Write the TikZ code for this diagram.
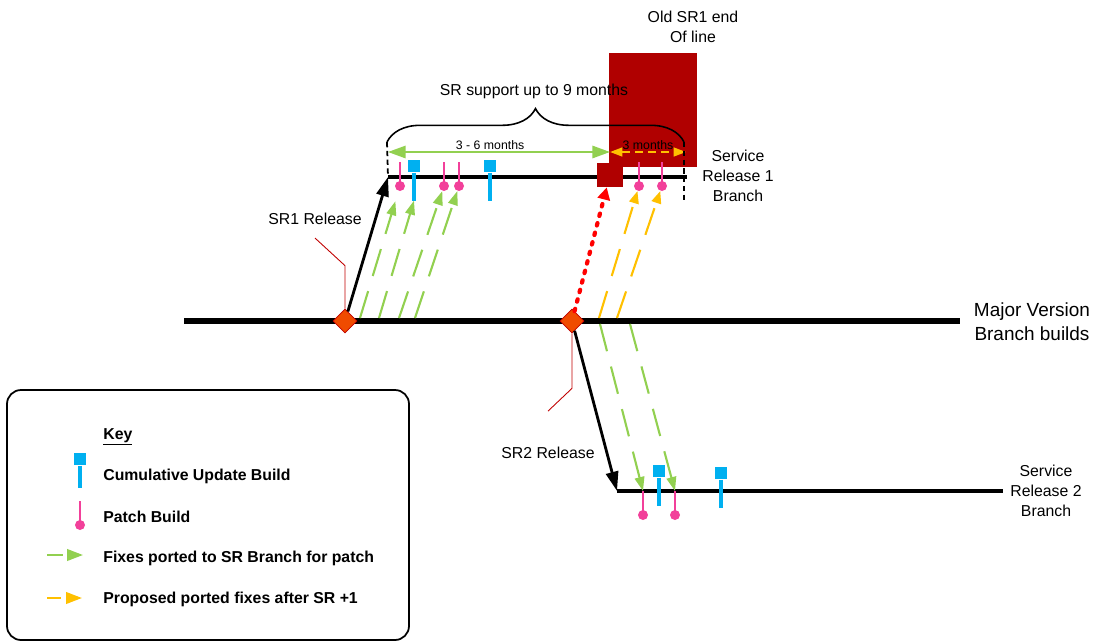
\documentclass[tikz,border=0pt]{standalone}
\usepackage{fontspec}
\setmainfont{Liberation Sans}
\usetikzlibrary{positioning,arrows.meta,shapes.geometric,decorations.pathreplacing,calc}

\definecolor{eolRed}{HTML}{B00000}
\definecolor{relOrange}{HTML}{F04B00}
\definecolor{relBorder}{HTML}{C00000}
\definecolor{fixGreen}{HTML}{92D050}
\definecolor{fixOrange}{HTML}{FFC000}
\definecolor{cuBlue}{HTML}{00B0F0}
\definecolor{patchPink}{HTML}{F2409A}

\begin{document}
\begin{tikzpicture}[
    x=0.2mm, y=-0.2mm,
    labelText/.style={align=center, font=\fontsize{9}{11.4}\selectfont},
    bigText/.style={align=center, font=\fontsize{10.8}{13.6}\selectfont},
    monthText/.style={font=\fontsize{7}{8.4}\selectfont, inner sep=0.8pt},
    keyText/.style={anchor=west, inner sep=0pt, font=\fontsize{9}{11}\selectfont\bfseries},
    keyBox/.style={rectangle, draw, line width=1pt, rounded corners=8pt, minimum width=80.4mm, minimum height=50mm},
    mainLine/.style={line width=3.4pt},
    branchLine/.style={line width=2pt},
    endMark/.style={line width=1pt, dash pattern=on 3pt off 2pt},
    braceLine/.style={decorate, decoration={brace, amplitude=19pt}, line width=0.9pt},
    eolBlock/.style={rectangle, fill=eolRed, inner sep=0pt},
    releaseMark/.style={diamond, aspect=1, draw=relBorder, fill=relOrange, inner sep=0pt, minimum width=4.8mm, minimum height=4.8mm},
    patchDot/.style={circle, fill=patchPink, inner sep=0pt, minimum size=2mm},
    patchStem/.style={draw=patchPink, line width=1.3pt},
    cuSquare/.style={rectangle, fill=cuBlue, inner sep=0pt, minimum width=2.3mm, minimum height=2.5mm},
    cuStem/.style={draw=cuBlue, line width=2pt},
    releaseArrow/.style={-{Triangle[length=11pt, width=7pt]}, line width=1.6pt},
    greenFix/.style={-{Triangle[length=8pt, width=5.5pt]}, draw=fixGreen, line width=1.2pt, dash pattern=on 16pt off 9pt},
    orangeFix/.style={-{Triangle[length=7pt, width=5.5pt]}, draw=fixOrange, line width=1.2pt, dash pattern=on 16pt off 9pt},
    redFix/.style={-{Triangle[length=7pt, width=7pt]}, draw=red, line width=2.4pt, line cap=round, dash pattern=on 1.4pt off 4.2pt},
    calloutLine/.style={draw=relBorder, line width=0.5pt},
    spanGreen/.style={{Triangle[length=10pt, width=7pt]}-{Triangle[length=10pt, width=7pt]}, draw=fixGreen, line width=1.1pt},
    spanOrange/.style={{Triangle[length=7pt, width=5pt]}-{Triangle[length=7pt, width=5pt]}, draw=fixOrange, line width=1.1pt, dash pattern=on 4.5pt off 3pt},
    keyGreen/.style={-{Triangle[length=9pt, width=6.5pt]}, draw=fixGreen, line width=1.3pt, dash pattern=on 9pt off 5pt},
    keyOrange/.style={-{Triangle[length=9pt, width=6.5pt]}, draw=fixOrange, line width=1.3pt, dash pattern=on 8pt off 5pt}
]
\useasboundingbox (0,0) rectangle (1097,643);

% ================= OLD SR1 END OF LINE =================
\node[eolBlock, minimum width=17.6mm, minimum height=22.8mm] (eolBig) at (653,110) {};
\node[labelText] (eolLbl) at (693,27) {Old SR1 end\\Of line};

% ================= SUPPORT SPAN =================
\coordinate (braceL) at (387,142);
\coordinate (braceR) at (684,142);
\draw[braceLine] (braceL) -- (braceR);
\node[labelText] (supportLbl) at (534,91) {SR support up to 9 months};

\coordinate (spanL) at (388,152);
\coordinate (spanMid) at (610,152);
\coordinate (spanR) at (686,152);
\draw[spanGreen] (spanL) -- node[monthText, above, pos=0.46] (spanGreenLbl) {3 - 6 months} (spanMid);
\draw[spanOrange] (spanMid) -- node[monthText, above] (spanOrangeLbl) {3 months} (spanR);

% ================= BRANCH LINES =================
\coordinate (mainL) at (184,321);
\coordinate (mainR) at (960,321);
\draw[mainLine] (mainL) -- (mainR);
\node[bigText] (mainLbl) at (1032,322) {Major Version\\Branch builds};

\coordinate (sr1Start) at (388,177);
\coordinate (sr1End) at (687,177);
\coordinate (sr1Tick) at (684,200);
\draw[branchLine] (sr1Start) -- (sr1End);
\draw[endMark] (braceL) -- (sr1Start);
\draw[endMark] (braceR) -- (sr1Tick);
\node[labelText] (sr1BranchLbl) at (738,176) {Service\\Release 1\\Branch};

\coordinate (sr2Start) at (617,491);
\coordinate (sr2End) at (1003,491);
\draw[branchLine] (sr2Start) -- (sr2End);
\node[labelText] (sr2BranchLbl) at (1046,491) {Service\\Release 2\\Branch};

\node[eolBlock, minimum width=5.2mm, minimum height=4.8mm] (eolSq) at (610,175) {};

% ================= BUILDS ON SR1 =================
\node[patchDot] (sr1P1) at (400,186) {};
\draw[patchStem] (sr1P1.center) -- ++(0,-24);
\node[cuSquare] (sr1C1) at (414,166) {};
\draw[cuStem] (sr1C1.south) -- ++(0,28) coordinate (sr1C1b);
\node[patchDot] (sr1P2) at (444,186) {};
\draw[patchStem] (sr1P2.center) -- ++(0,-24);
\node[patchDot] (sr1P3) at (459,186) {};
\draw[patchStem] (sr1P3.center) -- ++(0,-24);
\node[cuSquare] (sr1C2) at (490,166) {};
\draw[cuStem] (sr1C2.south) -- ++(0,28);
\node[patchDot] (sr1P4) at (639,186) {};
\draw[patchStem] (sr1P4.center) -- ++(0,-24);
\node[patchDot] (sr1P5) at (662,186) {};
\draw[patchStem] (sr1P5.center) -- ++(0,-24);

% ================= BUILDS ON SR2 =================
\node[patchDot] (sr2P1) at (643,515) {};
\draw[patchStem] (sr2P1.center) -- ++(0,-24) coordinate (sr2P1t);
\node[cuSquare] (sr2C1) at (659,471) {};
\draw[cuStem] (sr2C1.south) -- ++(0,28);
\node[patchDot] (sr2P2) at (675,515) {};
\draw[patchStem] (sr2P2.center) -- ++(0,-24) coordinate (sr2P2t);
\node[cuSquare] (sr2C2) at (721,473) {};
\draw[cuStem] (sr2C2.south) -- ++(0,28);

% ================= RELEASES =================
\node[releaseMark] (sr1Rel) at (345,321) {};
\node[releaseMark] (sr2Rel) at (572,321) {};
\draw[releaseArrow] (sr1Rel) -- (sr1Start);
\draw[releaseArrow] (sr2Rel) -- (sr2Start);

\node[labelText] (sr1Lbl) at (315,219) {SR1 Release};
\node[labelText] (sr2Lbl) at (548,453) {SR2 Release};
\draw[calloutLine] (sr1Rel.north) -- ++(0,-43) -- ([yshift=-4pt]sr1Lbl.south);
\draw[calloutLine] (sr2Rel.south) -- ++(0,55) -- ([yshift=17pt]sr2Lbl.north);

% ================= PORTED FIXES =================
\coordinate (g1s) at (360,318);
\coordinate (g2s) at (379,318);
\coordinate (g3s) at (399,318);
\coordinate (g4s) at (415,318);
\draw[greenFix, shorten >=6pt] (g1s) -- (sr1P1);
\draw[greenFix] (g2s) -- (sr1C1b);
\draw[greenFix] (g3s) -- (sr1P2);
\draw[greenFix] (g4s) -- (sr1P3);

\coordinate (o1s) at (599,318);
\coordinate (o2s) at (617,318);
\draw[orangeFix] (o1s) -- (sr1P4);
\draw[orangeFix] (o2s) -- (sr1P5);
\draw[redFix] (sr2Rel) -- (eolSq);

\coordinate (d1s) at (600,324);
\coordinate (d2s) at (630,324);
\draw[greenFix] (d1s) -- (sr2P1t);
\draw[greenFix] (d2s) -- (sr2P2t);

% ================= KEY =================
\node[keyBox] (keyFrame) at (208,515) {};
\node[keyText] (keyTitle) at (103,437) {\underline{Key}};

\node[cuSquare] (keyCu) at (80,459) {};
\draw[cuStem] (keyCu.south) -- ++(0,22);
\node[keyText] (keyCuTxt) at (103,476) {Cumulative Update Build};

\node[patchDot] (keyPatch) at (80,525) {};
\draw[patchStem] (keyPatch.center) -- ++(0,-24);
\node[keyText] (keyPatchTxt) at (103,517) {Patch Build};

\coordinate (keyGreenS) at (47,555);
\coordinate (keyGreenE) at (83,555);
\draw[keyGreen] (keyGreenS) -- (keyGreenE);
\node[keyText] (keyGreenTxt) at (103,558) {Fixes ported to SR Branch for patch};

\coordinate (keyOrangeS) at (47,598);
\coordinate (keyOrangeE) at (82,598);
\draw[keyOrange] (keyOrangeS) -- (keyOrangeE);
\node[keyText] (keyOrangeTxt) at (103,599) {Proposed ported fixes after SR +1};

\end{tikzpicture}
\end{document}
